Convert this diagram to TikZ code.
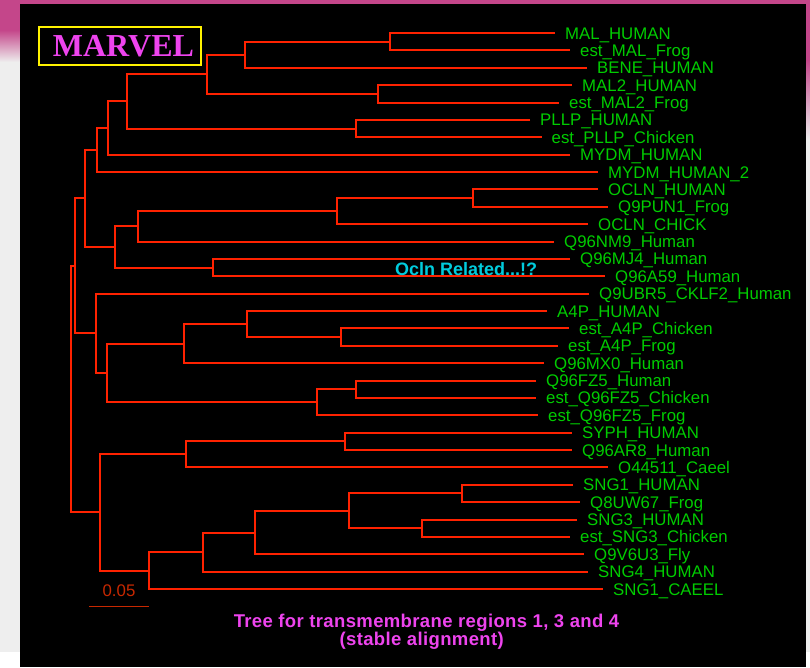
\documentclass[tikz,border=0pt]{standalone}
\usepackage{fontspec}
\setmainfont{Liberation Sans}
\newfontfamily\marvelfont{Liberation Serif}
\usetikzlibrary{calc}
\definecolor{brc}{RGB}{255,34,0}
\definecolor{labc}{RGB}{0,204,0}
\definecolor{magc}{RGB}{238,68,238}
\definecolor{cyc}{RGB}{0,204,221}
\definecolor{darkrc}{RGB}{200,40,0}
\definecolor{pinkc}{RGB}{196,70,138}
\definecolor{bggrey}{RGB}{238,238,238}
\newcommand\mkinner[4]{%
  \path let \p1=($(#3)!0.5!(#4)$) in coordinate (#1) at (#2pt,\y1);
  \draw[br] (#3) -- (#1 |- #3) -- (#1 |- #4) -- (#4);}
\begin{document}
\begin{tikzpicture}[x=1pt,y=-1pt,
  br/.style={draw=brc, line width=2pt},
  lab/.style={anchor=west, inner sep=0pt, text height=12pt, text depth=0pt, text=labc, font=\fontsize{16.8}{18}\selectfont},
  capt/.style={anchor=base, inner sep=0pt, text=magc, font=\bfseries\fontsize{18.5}{20}\selectfont\addfontfeatures{LetterSpace=2.0}}]
\useasboundingbox (0,0) rectangle (810,667);
% background / frame
\fill[bggrey] (0,0) rectangle (810,667);
\fill[pinkc] (0,0) rectangle (810,4);
\fill[pinkc] (0,4) rectangle (20,30);
\shade[top color=pinkc, bottom color=bggrey] (0,30) rectangle (20,62);
\fill[pinkc] (806,4) rectangle (810,60);
\shade[top color=pinkc, bottom color=bggrey] (806,60) rectangle (810,140);
\fill[white] (0,652) rectangle (20,667);
\fill[white] (806,652) rectangle (810,667);
\fill[black] (20,4) rectangle (806,667);
% title
\node[draw=yellow, line width=2pt, minimum width=162pt, minimum height=38pt, inner sep=0pt] (box) at (119.7,46) {};
\node[anchor=base, inner sep=0pt, text=magc, font=\marvelfont\bfseries\fontsize{32}{36}\selectfont] (title) at (123.4,56.5) {MARVEL};
% leaves
\foreach \i/\ex/\txt in {
 1/555/MAL\_HUMAN, 2/570/est\_MAL\_Frog, 3/587/BENE\_HUMAN, 4/572/MAL2\_HUMAN,
 5/559/est\_MAL2\_Frog, 6/530/PLLP\_HUMAN, 7/541.5/est\_PLLP\_Chicken, 8/570/MYDM\_HUMAN,
 9/598/MYDM\_HUMAN\_2, 10/598/OCLN\_HUMAN, 11/608/Q9PUN1\_Frog, 12/588/OCLN\_CHICK,
 13/554/Q96NM9\_Human, 14/570/Q96MJ4\_Human, 15/605/Q96A59\_Human, 16/589/Q9UBR5\_CKLF2\_Human,
 17/547/A4P\_HUMAN, 18/569/est\_A4P\_Chicken, 19/558/est\_A4P\_Frog, 20/544/Q96MX0\_Human,
 21/536/Q96FZ5\_Human, 22/536/est\_Q96FZ5\_Chicken, 23/538/est\_Q96FZ5\_Frog, 24/572/SYPH\_HUMAN,
 25/572/Q96AR8\_Human, 26/608/O44511\_Caeel, 27/573/SNG1\_HUMAN, 28/580/Q8UW67\_Frog,
 29/577/SNG3\_HUMAN, 30/570/est\_SNG3\_Chicken, 31/584/Q9V6U3\_Fly, 32/588/SNG4\_HUMAN,
 33/603/SNG1\_CAEEL}{
  \coordinate (l\i) at (\ex,{33+(\i-1)*17.375});
  \node[lab] (t\i) at ([xshift=10pt]l\i) {\txt};
}
% internal nodes
\mkinner{n1}{390}{l1}{l2}
\mkinner{n2}{245}{n1}{l3}
\mkinner{n3}{378}{l4}{l5}
\mkinner{n4}{207}{n2}{n3}
\mkinner{n5}{356}{l6}{l7}
\mkinner{n6}{127}{n4}{n5}
\mkinner{n7}{108}{n6}{l8}
\mkinner{n8}{97}{n7}{l9}
\mkinner{n9}{473}{l10}{l11}
\mkinner{n10}{337}{n9}{l12}
\mkinner{n11}{138}{n10}{l13}
\mkinner{n12}{213}{l14}{l15}
\mkinner{n13}{115}{n11}{n12}
\mkinner{n14}{85}{n8}{n13}
\mkinner{n15a}{341}{l18}{l19}
\mkinner{n15}{247}{l17}{n15a}
\mkinner{n16}{184}{n15}{l20}
\mkinner{n17}{356}{l21}{l22}
\mkinner{n18}{317}{n17}{l23}
\mkinner{n19}{107}{n16}{n18}
\mkinner{n20}{96}{l16}{n19}
\mkinner{n21}{75}{n14}{n20}
\mkinner{n22}{345}{l24}{l25}
\mkinner{n23}{186}{n22}{l26}
\mkinner{n24}{462}{l27}{l28}
\mkinner{n25}{422}{l29}{l30}
\mkinner{n26}{349}{n24}{n25}
\mkinner{n27}{255}{n26}{l31}
\mkinner{n28}{203}{n27}{l32}
\mkinner{n29}{149}{n28}{l33}
\mkinner{n30}{100}{n23}{n29}
\mkinner{root}{71}{n21}{n30}
% annotation
\node[anchor=base west, inner sep=0pt, text=cyc, font=\bfseries\fontsize{18}{20}\selectfont] (ocln) at (395,275.5) {Ocln Related...!?};
% scale bar
\coordinate (sb1) at (89,606);
\coordinate (sb2) at (149,606);
\draw[darkrc, line width=1pt] (sb1) -- (sb2);
\node[inner sep=0pt, text height=12pt, text depth=0pt, text=darkrc, font=\fontsize{16.8}{18}\selectfont] (sbl) at (119,590) {0.05};
% caption
\node[capt] (cap1) at (426.5,627.5) {Tree for transmembrane regions 1, 3 and 4};
\node[capt] (cap2) at (421.7,645.5) {(stable alignment)};
\end{tikzpicture}
\end{document}
